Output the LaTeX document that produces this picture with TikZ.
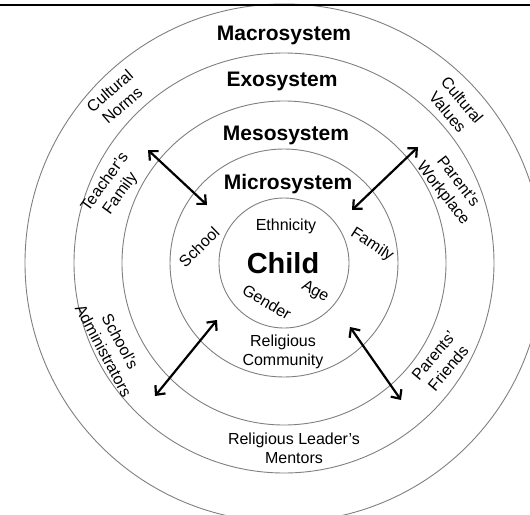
\documentclass[tikz,border=0pt]{standalone}
\usepackage{fontspec}
\setmainfont{Liberation Sans}
\usetikzlibrary{arrows.meta}
\begin{document}
\begin{tikzpicture}[x=1pt,y=-1pt,
  ring/.style={draw=black!50, line width=0.9pt},
  sysl/.style={font=\fontsize{21}{25}\selectfont\bfseries, inner sep=0pt, anchor=base},
  lbl/.style={font=\fontsize{16}{19}\selectfont, align=center, inner sep=0pt},
  link/.style={line width=2.2pt, {Straight Barb[length=7pt,width=13pt]}-{Straight Barb[length=7pt,width=13pt]}}]
\path[use as bounding box] (0,0) rectangle (530,514);
\clip (0,0) rectangle (530,514);
\fill[white] (0,0) rectangle (530,514);
\coordinate (c) at (284,263);
% rings
\draw[ring] (c) circle[radius=65];
\draw[ring] (c) circle[radius=114];
\draw[ring] (c) circle[radius=162];
\draw[ring] (c) circle[radius=210];
\draw[ring] (c) circle[radius=259];
% top rule
\coordinate (ruleL) at (0,5);
\coordinate (ruleR) at (530,5);
\draw[line width=2.5pt] (ruleL) -- (ruleR);
% system titles
\node[sysl] (macro) at (284,40) {Macrosystem};
\node[sysl] (exo) at (282,86) {Exosystem};
\node[sysl] (meso) at (286,140) {Mesosystem};
\node[sysl] (micro) at (288,189) {Microsystem};
% child
\node[font=\fontsize{29}{34}\selectfont\bfseries, inner sep=0pt, anchor=base] (child) at (283,273) {Child};
\node[lbl, anchor=base] (eth) at (286,230) {Ethnicity};
\node[lbl, rotate=-30] (age) at (315,292) {Age};
\node[lbl, rotate=-31] (gender) at (267,302) {Gender};
% microsystem labels
\node[lbl, rotate=44] (school) at (199,247) {School};
\node[lbl, rotate=-33] (family) at (372,245) {Family};
\node[lbl] (relcom) at (283,352) {Religious\\Community};
% exosystem labels
\node[lbl, rotate=54] (tfam) at (113,188) {Teacher’s\\Family};
\node[lbl, rotate=-52] (pwork) at (450,188) {Parent’s\\Workplace};
\node[lbl, rotate=-62] (sadm) at (112,346) {School’s\\Administrators};
\node[lbl, rotate=50] (pfr) at (441,362) {Parents’\\Friends};
\node[lbl] (rlm) at (294,448) {Religious Leader’s\\Mentors};
% macrosystem labels
\node[lbl, rotate=41] (cnorm) at (116,98) {Cultural\\Norms};
\node[lbl, rotate=-50] (cval) at (455,106) {Cultural\\Values};
% arrows
\coordinate (a1o) at (148,150);
\coordinate (a1i) at (207,205);
\coordinate (a2o) at (418,147);
\coordinate (a2i) at (352,210);
\coordinate (a3i) at (217,320);
\coordinate (a3o) at (155,396);
\coordinate (a4i) at (350,327);
\coordinate (a4o) at (401,400);
\draw[link] (a1o) -- (a1i);
\draw[link] (a2o) -- (a2i);
\draw[link] (a3i) -- (a3o);
\draw[link] (a4i) -- (a4o);
\end{tikzpicture}
\end{document}
